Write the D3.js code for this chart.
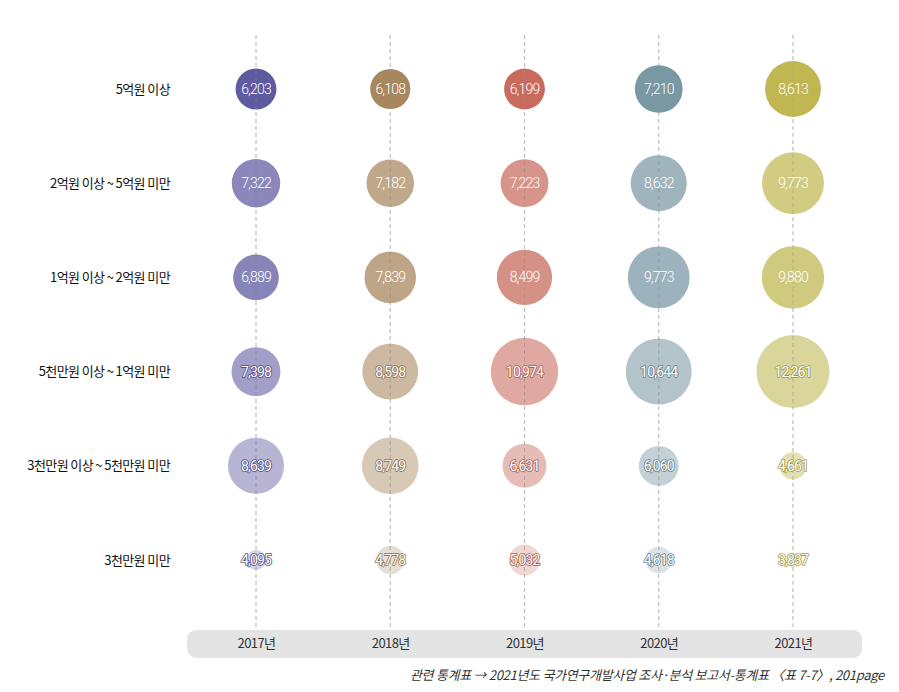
<!DOCTYPE html>
<html>
<head>
<meta charset="utf-8">
<script src="https://cdn.jsdelivr.net/npm/d3@7/dist/d3.min.js"></script>
<style>
  html, body { margin: 0; padding: 0; background: #fff; }
  svg { display: block; }
</style>
</head>
<body>
<svg id="chart" width="899" height="692"></svg>
<script>
// ---- data ----
const years = ["2017년", "2018년", "2019년", "2020년", "2021년"];
const categories = [
  "5억원 이상",
  "2억원 이상 ~ 5억원 미만",
  "1억원 이상 ~ 2억원 미만",
  "5천만원 이상 ~ 1억원 미만",
  "3천만원 이상 ~ 5천만원 미만",
  "3천만원 미만"
];
// values[row][year]
const values5eokPlus   = [6203, 6108, 6199, 7210, 8613];
const values2to5eok    = [7322, 7182, 7223, 8632, 9773];
const values1to2eok    = [6889, 7839, 8499, 9773, 9880];
const values5kTo1eok   = [7398, 8598, 10974, 10644, 12261];
const values3kTo5k     = [8639, 8749, 6631, 6060, 4661];
const valuesUnder3k    = [4095, 4778, 5032, 4618, 3837];
const values = [values5eokPlus, values2to5eok, values1to2eok, values5kTo1eok, values3kTo5k, valuesUnder3k];
const footnote = "관련 통계표 → 2021년도 국가연구개발사업 조사·분석 보고서-통계표 〈표 7-7〉, 201page";

// ---- styles ----
const yearColors = ["#5d5a9f", "#a8865e", "#c86b5d", "#7a97a4", "#c0b752"];
const rowOpacity = [1, 0.72, 0.74, 0.58, 0.45, 0.27];

const svg = d3.select("#chart");

const x = d3.scalePoint().domain(years).range([256, 793]);
const y = d3.scalePoint().domain(categories).range([89, 560]);

const allVals = values.flat();
const minV = d3.min(allVals), maxV = d3.max(allVals);
// bubble area grows linearly with value above a baseline
const area = d3.scaleLinear().domain([minV - 400, maxV]).range([0, Math.PI * 36.5 * 36.5]);
const r = v => Math.sqrt(area(v) / Math.PI);

// gray band for x axis
svg.append("rect")
  .attr("x", 187).attr("y", 630).attr("width", 675).attr("height", 28)
  .attr("rx", 9).attr("ry", 9)
  .attr("fill", "#e4e4e4");

// dashed vertical guides
svg.append("g").selectAll("line").data(years).join("line")
  .attr("x1", d => x(d)).attr("x2", d => x(d))
  .attr("y1", 35).attr("y2", 630)
  .attr("stroke", "#c8c8c8").attr("stroke-width", 1)
  .attr("stroke-dasharray", "4,3");

// x axis labels
const xAxis = d3.axisBottom(x).tickSize(0).tickPadding(0);
const gx = svg.append("g").attr("transform", "translate(0,639)").call(xAxis);
gx.select(".domain").remove();
gx.selectAll("text")
  .attr("font-family", "'Noto Sans CJK KR', 'Noto Sans', sans-serif")
  .attr("font-size", 13).attr("fill", "#333")
  .attr("letter-spacing", "-0.6");

// y axis labels
const yAxis = d3.axisLeft(y).tickSize(0).tickPadding(0);
const gy = svg.append("g").attr("transform", "translate(170,0)").call(yAxis);
gy.select(".domain").remove();
gy.selectAll("text")
  .attr("font-family", "'Noto Sans CJK KR', 'Noto Sans', sans-serif")
  .attr("font-size", 13).attr("font-weight", 400).attr("fill", "#111")
  .attr("letter-spacing", "-0.6");

// bubbles
const cells = [];
values.forEach((row, i) => row.forEach((v, j) => cells.push({ cat: categories[i], year: years[j], v, i, j })));

const g = svg.append("g");
g.selectAll("circle").data(cells).join("circle")
  .attr("cx", d => x(d.year)).attr("cy", d => y(d.cat))
  .attr("r", d => r(d.v))
  .attr("fill", d => yearColors[d.j])
  .attr("fill-opacity", d => rowOpacity[d.i]);

// dashed line faintly over the bubbles
svg.append("g").selectAll("line").data(years).join("line")
  .attr("x1", d => x(d)).attr("x2", d => x(d))
  .attr("y1", 35).attr("y2", 630)
  .attr("stroke", "#999").attr("stroke-opacity", 0.3).attr("stroke-width", 1)
  .attr("stroke-dasharray", "4,3");

const fmt = d3.format(",");
const outlined = d => d.i >= 3;
svg.append("g").selectAll("text").data(cells).join("text")
  .attr("x", d => x(d.year)).attr("y", d => y(d.cat))
  .attr("text-anchor", "middle").attr("dominant-baseline", "central")
  .attr("font-family", "Roboto, 'Noto Sans', sans-serif")
  .attr("font-weight", d => outlined(d) ? 400 : 300)
  .attr("font-size", 14)
  .attr("letter-spacing", "-0.8")
  .attr("fill", "#fff")
  .attr("stroke", d => outlined(d) ? d3.color(yearColors[d.j]).darker(0.5) : "none")
  .attr("stroke-width", d => outlined(d) ? 1.6 : 0)
  .attr("stroke-linejoin", "round")
  .attr("paint-order", "stroke")
  .text(d => fmt(d.v));

// footnote
svg.append("text")
  .attr("x", 884).attr("y", 680)
  .attr("text-anchor", "end")
  .attr("font-family", "'Noto Sans CJK KR', 'Noto Sans', sans-serif")
  .attr("font-size", 13).attr("font-style", "italic")
  .attr("letter-spacing", "-0.3")
  .attr("fill", "#333")
  .text(footnote);
</script>
</body>
</html>
